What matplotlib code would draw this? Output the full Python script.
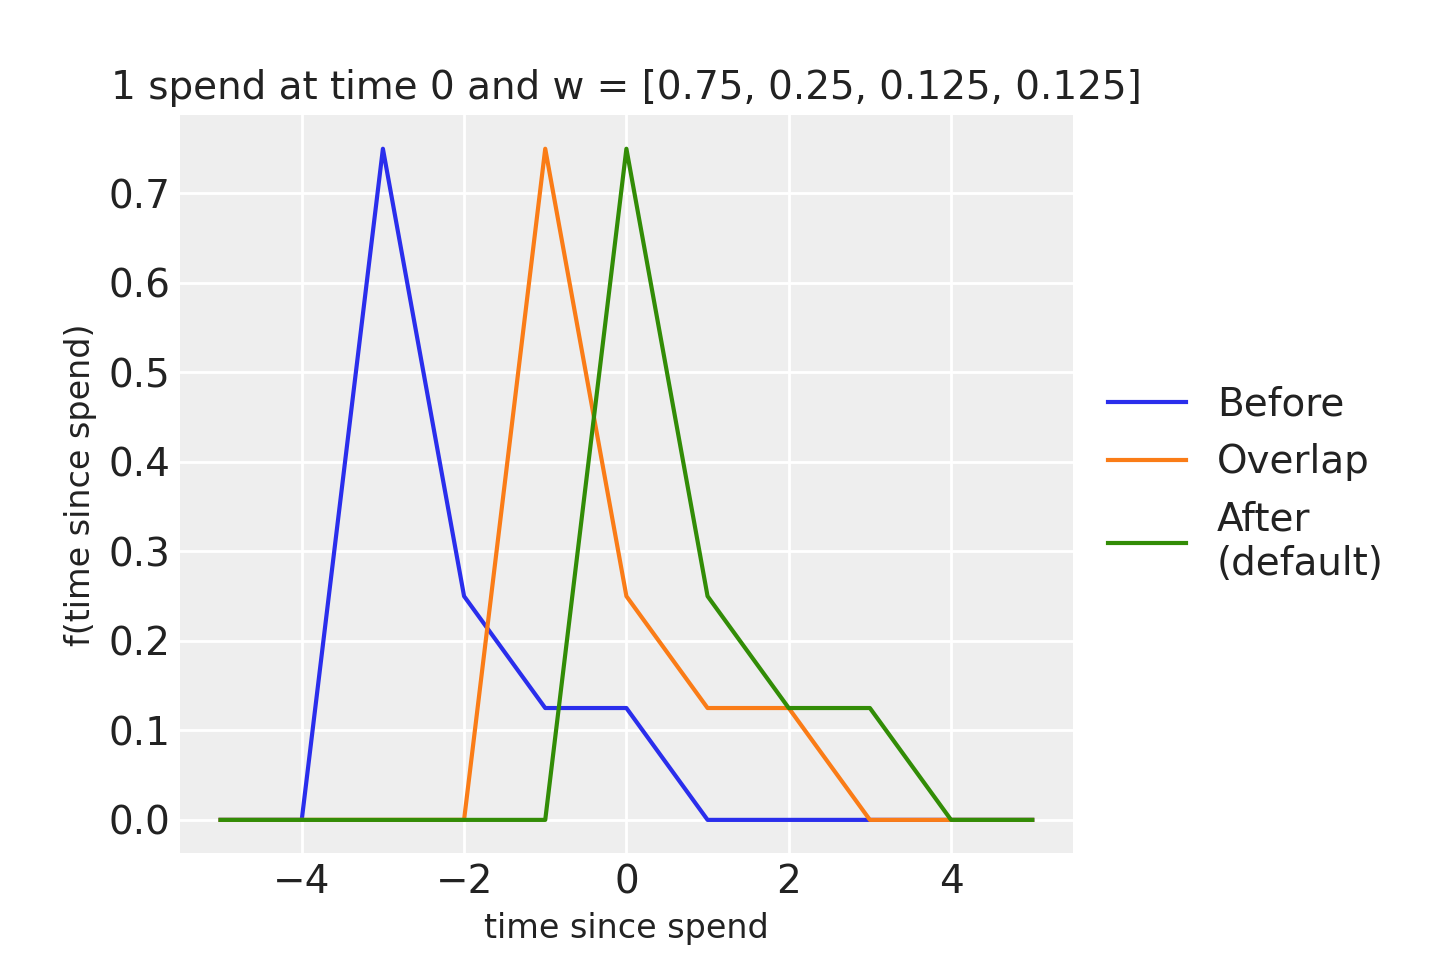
import numpy as np
import matplotlib
matplotlib.use("Agg")
from matplotlib import pyplot as plt

# data
t = [-5, -4, -3, -2, -1, 0, 1, 2, 3, 4, 5]
before = [0, 0, 0.75, 0.25, 0.125, 0.125, 0, 0, 0, 0, 0]
overlap = [0, 0, 0, 0, 0.75, 0.25, 0.125, 0.125, 0, 0, 0]
after = [0, 0, 0, 0, 0, 0.75, 0.25, 0.125, 0.125, 0, 0]
labels = ["Before", "Overlap", "After\n(default)"]
colors = ["#2a2eec", "#fa7c17", "#328c06"]

plt.rcParams["font.family"] = ["DejaVu Sans"]
fig = plt.figure(figsize=(7.2, 4.8), dpi=200)
ax = fig.add_axes([0.125, 0.111, 0.62, 0.769])
ax.set_facecolor("#eeeeee")
for s in ax.spines.values():
    s.set_visible(False)
ax.grid(True, color="white", linewidth=1)
ax.set_axisbelow(True)
ax.tick_params(length=0, labelsize=14, colors="#222222", pad=3.5)

for y, lab, c in zip([before, overlap, after], labels, colors):
    ax.plot(t, y, color=c, linewidth=1.5, label=lab)

ax.set_xticks([-4, -2, 0, 2, 4])
ax.set_yticks([0, 0.1, 0.2, 0.3, 0.4, 0.5, 0.6, 0.7])
ax.set_xlim(-5.5, 5.5)
ax.set_ylim(-0.0375, 0.7875)
ax.set_xlabel("time since spend", fontsize=12, color="#222222")
ax.set_ylabel("f(time since spend)", fontsize=12, color="#222222")
ax.set_title("1 spend at time 0 and w = [0.75, 0.25, 0.125, 0.125]",
             fontsize=14, color="#222222")
ax.legend(loc="center left", bbox_to_anchor=(1.0, 0.5), frameon=False,
          fontsize=14, labelcolor="#222222")

fig.savefig("out.png", dpi=200)
